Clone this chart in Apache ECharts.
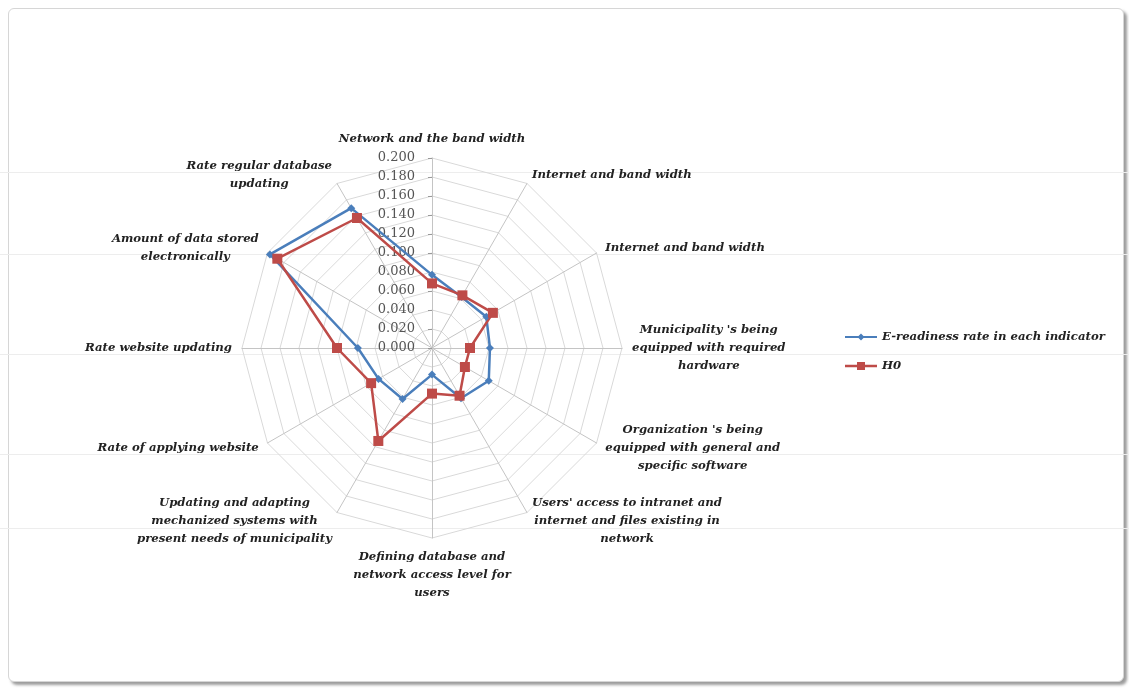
<!DOCTYPE html>
<html>
<head>
<meta charset="utf-8">
<script src="https://cdn.jsdelivr.net/npm/echarts@6/dist/echarts.min.js"></script>
<style>
html,body{margin:0;padding:0;background:#fff;}
#frame{position:absolute;left:8px;top:8px;width:1114px;height:672px;border:1px solid #d6d6d6;border-radius:6px;box-shadow:3px 3px 3px #9c9c9c;background:#fff;}
.rule{position:absolute;left:0;width:1129px;height:1px;background:#ededed;}
#chart{position:absolute;left:0;top:0;width:1129px;height:691px;}
</style>
</head>
<body>
<div id="frame"></div>
<div class="rule" style="top:172px"></div>
<div class="rule" style="top:254px"></div>
<div class="rule" style="top:354px"></div>
<div class="rule" style="top:454px"></div>
<div class="rule" style="top:528px"></div>
<div id="chart"></div>
<script>
// indicators, clockwise from the top
var categories = [
    'Network and the band width',
    'Internet and band width',
    'Internet and band width',
    "Municipality 's being\nequipped with required\nhardware",
    "Organization 's being\nequipped with general and\nspecific software",
    "Users' access to intranet and\ninternet and files existing in\nnetwork",
    'Defining database and\nnetwork access level for\nusers',
    'Updating and adapting\nmechanized systems with\npresent needs of municipality',
    'Rate of applying website',
    'Rate website updating',
    'Amount of data stored\nelectronically',
    'Rate regular database\nupdating'
];
var readiness = [0.077, 0.062, 0.066, 0.061, 0.069, 0.061, 0.028, 0.062, 0.065, 0.078, 0.197, 0.170];
var h0 = [0.068, 0.064, 0.074, 0.040, 0.040, 0.058, 0.048, 0.113, 0.074, 0.100, 0.188, 0.158];
var axisMin = 0, axisMax = 0.2, axisSplit = 10;

// echarts lays radar axes out counter-clockwise, so flip everything after the first one
function cw(arr) {
    return [arr[0]].concat(arr.slice(1).reverse());
}

var serifFont = 'DejaVu Serif';
var nameSize = 11.7;
var indicators = cw(categories).map(function (n, i) {
    var ind = { name: n, min: axisMin, max: axisMax };
    if (i == 0) {
        ind.axisLabel = {
            show: true,
            margin: 17,
            color: '#555',
            fontFamily: serifFont,
            fontSize: 13,
            formatter: function (v) { return v.toFixed(3); }
        };
        ind.axisTick = { show: true, length: 4, lineStyle: { color: '#999' } };
    }
    return ind;
});

var chart = echarts.init(document.getElementById('chart'));
chart.setOption({
    animation: false,
    legend: {
        orient: 'vertical',
        left: 840,
        top: 326,
        itemWidth: 32,
        itemHeight: 10,
        itemGap: 17,
        textStyle: { color: '#222', fontFamily: serifFont, fontStyle: 'italic', fontWeight: 'bold', fontSize: nameSize },
        data: [
            { name: 'E-readiness rate in each indicator', icon: 'path://M0,3.9L32,3.9L32,6.1L0,6.1Z M16,1.5L19.5,5L16,8.5L12.5,5Z', itemStyle: { color: '#4a7ebb', borderWidth: 0 } },
            { name: 'H0', icon: 'path://M0,3.8L32,3.8L32,6.2L0,6.2Z M12,1L20,1L20,9L12,9Z', itemStyle: { color: '#be4b48', borderWidth: 0 } }
        ]
    },
    radar: {
        center: [432, 348],
        radius: 190,
        startAngle: 90,
        splitNumber: axisSplit,
        shape: 'polygon',
        nameGap: 10,
        indicator: indicators,
        axisName: {
            color: '#222',
            fontFamily: serifFont,
            fontStyle: 'italic',
            fontWeight: 'bold',
            fontSize: nameSize,
            lineHeight: 18,
            formatter: function (name) {
                return name.split('\n').map(function (l) { return '{c|' + l + '}'; }).join('\n');
            },
            rich: {
                c: { align: 'center', lineHeight: 18, fontFamily: serifFont, fontStyle: 'italic', fontWeight: 'bold', fontSize: nameSize, color: '#222' }
            }
        },
        axisLine: { lineStyle: { color: '#c4c4c4' } },
        splitLine: { lineStyle: { color: '#d9d9d9' } },
        splitArea: { show: false },
        axisLabel: { show: false },
        axisTick: { show: false }
    },
    series: [
        {
            name: 'E-readiness rate in each indicator',
            type: 'radar',
            symbol: 'diamond',
            symbolSize: 8,
            lineStyle: { color: '#4a7ebb', width: 2.5 },
            itemStyle: { color: '#4a7ebb' },
            data: [{ name: 'E-readiness rate in each indicator', value: cw(readiness) }]
        },
        {
            name: 'H0',
            type: 'radar',
            symbol: 'rect',
            symbolSize: 10,
            lineStyle: { color: '#be4b48', width: 2.5 },
            itemStyle: { color: '#be4b48' },
            data: [{ name: 'H0', value: cw(h0) }]
        }
    ]
});
</script>
</body>
</html>
